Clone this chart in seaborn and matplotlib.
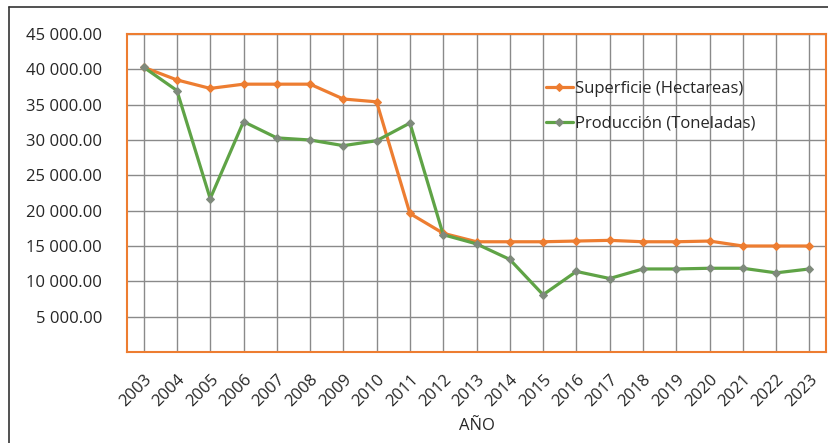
import pandas as pd
import seaborn as sns
import matplotlib.pyplot as plt
from matplotlib.lines import Line2D
from matplotlib.ticker import FuncFormatter

# datos
anios = list(range(2003, 2024))
superficie = [40300, 38500, 37300, 37900, 37900, 37900, 35800, 35400, 19600, 16800,
              15600, 15600, 15600, 15700, 15800, 15600, 15600, 15700, 15000, 15000, 15000]
produccion = [40300, 37000, 21700, 32600, 30300, 30000, 29200, 29900, 32400, 16600,
              15300, 13100, 8100, 11400, 10400, 11750, 11750, 11850, 11850, 11200, 11750]

df = pd.DataFrame({"anio": anios, "Superficie (Hectareas)": superficie,
                   "Producción (Toneladas)": produccion})

sns.set_style("white")
plt.rcParams['font.family'] = ['Open Sans', 'DejaVu Sans']

naranja = "#ED7D31"
verde = "#5FA346"

fig = plt.figure(figsize=(8.29, 4.43), dpi=100)
ax = fig.add_axes([127/829, 1 - 352/443, 699/829, 318/443])

sns.lineplot(data=df, x="anio", y="Superficie (Hectareas)", ax=ax, color=naranja,
             linewidth=2.3, marker="D", markersize=4.5, markeredgecolor=naranja,
             markerfacecolor=naranja, label="Superficie (Hectareas)", zorder=4)
sns.lineplot(data=df, x="anio", y="Producción (Toneladas)", ax=ax, color=verde,
             linewidth=2.3, marker="D", markersize=4.5, markeredgecolor="#7f8a7c",
             markerfacecolor="#7f8a7c", label="Producción (Toneladas)", zorder=5)

ax.set_xlim(2002.5, 2023.5)
ax.set_ylim(0, 45000)
ax.set_yticks(range(5000, 45001, 5000))
ax.set_xticks(anios)
ax.set_xticklabels([str(a) for a in anios], rotation=45, ha="right",
                   rotation_mode="anchor", fontsize=12)
ax.yaxis.set_major_formatter(FuncFormatter(lambda v, p: f"{v:,.2f}".replace(",", " ")))
ax.tick_params(axis="y", labelsize=12, length=0, pad=18)
ax.tick_params(axis="x", length=0, pad=14)

ax.grid(True, color="#8a8a8a", linewidth=1)
ax.set_axisbelow(True)
for s in ax.spines.values():
    s.set_color(naranja)
    s.set_linewidth(1.5)
    s.set_visible(True)

ax.set_xlabel("AÑO", fontsize=12, labelpad=6)
ax.set_ylabel("")

ax.legend(loc="upper left", bbox_to_anchor=(0.578, 0.9), frameon=False,
          fontsize=12, handlelength=1.6, handletextpad=0.15, labelspacing=1.15)

# marco del grafico (izquierda y arriba)
fig.add_artist(Line2D([9/829, 9/829], [0, 1 - 7/443], color="#333333", linewidth=1.2))
fig.add_artist(Line2D([9/829, 1], [1 - 7/443, 1 - 7/443], color="#333333", linewidth=1.2))

plt.savefig("out.png", dpi=100)
